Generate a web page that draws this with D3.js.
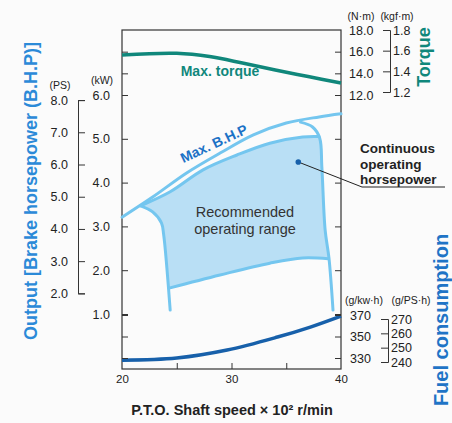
<!DOCTYPE html>
<html><head><meta charset="utf-8">
<script src="https://cdn.jsdelivr.net/npm/d3@7"></script>
<style>
body{margin:0;background:#fbfbfb}
svg{display:block;font-family:"Liberation Sans",Arial,sans-serif}
</style>
</head><body><svg id="c" width="452" height="423"></svg>
<script>
// ---- data ----
const speedInnerTicks=[25,30,35];
const speedLabels=[20,30,40];
const kwTicks=[1,2,3,4,5,6];
const psTicks=[2,3,4,5,6,7,8];
const torqueTicks=[12,14,16,18];
const torqueEdgeTicks=[12,14,16];
const kgfTicks=[1.2,1.4,1.6,1.8];
const fuelTicks=[330,350,370];
const fuelPSTicks=[240,250,260,270];

const torqueSpeed=[20,25,28,31,34,37,40];
const torqueVals=[15.7,15.85,15.55,14.95,14.3,13.7,13.1];
const bhpSpeed=[20,22.8,25.9,29,32,35,38,40];
const bhpVals=[3.21,3.67,4.22,4.68,5.09,5.36,5.50,5.57];
const innerSpeed=[21.7,24.4,27.4,30.5,33.5,36.5,38.0];
const innerVals=[3.47,3.79,4.29,4.63,4.90,5.04,5.05];
const rightSpeed=[36.3,37.4,38.05,38.25,38.55,38.9,39.27];
const rightVals=[5.38,5.27,5.02,4.36,2.92,2.28,1.09];
const leftSpeed=[21.7,22.8,23.6,23.8,24.1,24.4];
const leftVals=[3.47,3.33,3.08,2.82,2.05,1.09];
const bottomSpeed=[24.3,28.95,33.5,36.5,38.85];
const bottomVals=[1.59,1.89,2.16,2.28,2.26];
const fuelSpeed=[20,25,29.6,34.2,37.2,40];
const fuelVals=[328,330,337.4,349.5,358.8,369];
const markerSpeed=[36.1];
const markerKw=[4.47];

// ---- scales ----
const svg=d3.select("#c");
const L=122,R=341,T=30,B=369;
const x=d3.scaleLinear().domain([20,40]).range([L,R]);
const kw=d3.scaleLinear().domain([1,6]).range([314,95]);
const ps=d3.scaleLinear().domain([2,8]).range([kw(2*0.7355),kw(8*0.7355)]);
const tq=d3.scaleLinear().domain([12,18]).range([95,30]);
const kgf=d3.scaleLinear().domain([1.2,1.8]).range([92,30]);
const fuel=d3.scaleLinear().domain([330,370]).range([358,315]);
const fuelPS=d3.scaleLinear().domain([240,270]).range([362,319]);

const pts=(s,v)=>s.map((d,i)=>[d,v[i]]);
const kwLine=d3.line().x(d=>x(d[0])).y(d=>kw(d[1])).curve(d3.curveCatmullRom);

const lightBlue="#74c6ef", fillBlue="#b9dff5", teal="#10877b", darkBlue="#1760aa";

// fill region
const inner=pts(innerSpeed,innerVals);
const right=pts(rightSpeed,rightVals);
const left=pts(leftSpeed,leftVals);
const bottom=pts(bottomSpeed,bottomVals);
const fillPath=kwLine(inner)
 +kwLine(right.slice(2,6)).replace(/^M/,"L")
 +kwLine(bottom.slice().reverse()).replace(/^M/,"L")
 +kwLine(left.slice(0,5).reverse()).replace(/^M/,"L")+"Z";
svg.append("path").attr("d",fillPath).attr("fill",fillBlue);

// frame
svg.append("rect").attr("x",L).attr("y",T).attr("width",R-L).attr("height",B-T)
 .attr("fill","none").attr("stroke","#333").attr("stroke-width",1.2);

// boundary lines
[pts(bhpSpeed,bhpVals),inner,right,left,bottom].forEach(a=>{
 svg.append("path").attr("d",kwLine(a)).attr("fill","none")
  .attr("stroke",lightBlue).attr("stroke-width",3).attr("stroke-linecap","round");
});

// torque
svg.append("path").attr("d",d3.line().x(d=>x(d[0])).y(d=>tq(d[1])).curve(d3.curveCatmullRom)(pts(torqueSpeed,torqueVals)))
 .attr("fill","none").attr("stroke",teal).attr("stroke-width",3.5);
// fuel
svg.append("path").attr("d",d3.line().x(d=>x(d[0])).y(d=>fuel(d[1])).curve(d3.curveCatmullRom)(pts(fuelSpeed,fuelVals)))
 .attr("fill","none").attr("stroke",darkBlue).attr("stroke-width",3.5);

// ---- edge ticks (inward) ----
function clean(g){g.select(".domain").remove();g.selectAll("line").attr("stroke","#333");g.selectAll("text").attr("fill","#222");}
const fmt1=d3.format(".1f");
[[kw,kwTicks],[tq,torqueEdgeTicks],[fuel,fuelTicks]].forEach(([s,t])=>{
 svg.append("g").attr("transform",`translate(${L},0)`).call(d3.axisRight(s).tickValues(t).tickSize(6).tickFormat("")).call(clean);
 svg.append("g").attr("transform",`translate(${R},0)`).call(d3.axisLeft(s).tickValues(t).tickSize(6).tickFormat("")).call(clean);
});
svg.append("g").attr("transform",`translate(0,${B})`).call(d3.axisTop(x).tickValues(speedInnerTicks).tickSize(6).tickFormat("")).call(clean);

// ---- labels ----
const fs="12.5px";
svg.append("g").attr("transform",`translate(${L},0)`)
 .call(d3.axisLeft(kw).tickValues(kwTicks).tickSize(0).tickPadding(12).tickFormat(fmt1)).call(clean)
 .selectAll("text").style("font-size",fs);
svg.append("g").attr("transform",`translate(0,${B})`)
 .call(d3.axisBottom(x).tickValues(speedLabels).tickSize(0).tickPadding(6)).call(clean)
 .selectAll("text").style("font-size","11.5px");
svg.append("g").attr("transform",`translate(${R},0)`)
 .call(d3.axisRight(tq).tickValues(torqueTicks).tickSize(0).tickPadding(8).tickFormat(fmt1)).call(clean)
 .selectAll("text").style("font-size",fs);
svg.append("g").attr("transform",`translate(${R},0)`)
 .call(d3.axisRight(fuel).tickValues(fuelTicks).tickSize(0).tickPadding(9)).call(clean)
 .selectAll("text").style("font-size",fs);

// PS axis
const psG=svg.append("g").attr("transform","translate(78,0)")
 .call(d3.axisRight(ps).tickValues(psTicks).tickSize(7).tickSizeOuter(7).tickFormat(""));
psG.selectAll("line,path").attr("stroke","#333");
svg.append("g").attr("transform","translate(78,0)")
 .call(d3.axisLeft(ps).tickValues(psTicks).tickSize(0).tickPadding(10).tickFormat(fmt1)).call(clean)
 .selectAll("text").style("font-size",fs);

// kgf axis
const kgG=svg.append("g").attr("transform","translate(390,0)")
 .call(d3.axisLeft(kgf).tickValues(kgfTicks).tickSize(7).tickSizeOuter(7).tickFormat(""));
kgG.selectAll("line,path").attr("stroke","#333");
svg.append("g").attr("transform","translate(390,0)")
 .call(d3.axisRight(kgf).tickValues(kgfTicks).tickSize(0).tickPadding(3).tickFormat(fmt1)).call(clean)
 .selectAll("text").style("font-size",fs);

// g/PS.h axis
const fpG=svg.append("g").attr("transform","translate(388,0)")
 .call(d3.axisLeft(fuelPS).tickValues(fuelPSTicks).tickSize(7).tickSizeOuter(7).tickFormat(""));
fpG.selectAll("line,path").attr("stroke","#333");
svg.append("g").attr("transform","translate(388,0)")
 .call(d3.axisRight(fuelPS).tickValues(fuelPSTicks).tickSize(0).tickPadding(3)).call(clean)
 .selectAll("text").style("font-size",fs);

// units
const units=[["(PS)",60,89],["(kW)",102,84],["(N·m)",361,20],["(kgf·m)",397,20],["(g/kw·h)",364,304],["(g/PS·h)",411,304]];
units.forEach(([t,ux,uy])=>svg.append("text").text(t).attr("x",ux).attr("y",uy)
 .attr("text-anchor","middle").style("font-size","10.5px").attr("fill","#222"));

// titles
svg.append("text").text("P.T.O. Shaft speed × 10² r/min").attr("x",232).attr("y",415)
 .attr("text-anchor","middle").style("font-size","14.5px").style("font-weight","bold").attr("fill","#222");
svg.append("text").text("Output [Brake horsepower (B.H.P)]").attr("transform","translate(37,191) rotate(-90)")
 .attr("text-anchor","middle").style("font-size","18px").style("font-weight","bold").attr("fill","#2b8ad8");
svg.append("text").text("Torque").attr("transform","translate(430,57) rotate(-90)")
 .attr("text-anchor","middle").style("font-size","18px").style("font-weight","bold").attr("fill",teal);
svg.append("text").text("Fuel consumption").attr("transform","translate(448,320) rotate(-90)")
 .attr("text-anchor","middle").style("font-size","20px").style("font-weight","bold").attr("fill","#1f74c6");

// in-plot annotations
svg.append("text").text("Max. torque").attr("x",220).attr("y",76)
 .attr("text-anchor","middle").style("font-size","14px").style("font-weight","bold").attr("fill",teal);
svg.append("text").text("Max. B.H.P").attr("transform","translate(216,148) rotate(-25)")
 .attr("text-anchor","middle").style("font-size","14px").style("font-weight","bold").attr("fill","#1c72c6");
svg.append("text").attr("x",245).attr("y",217).attr("text-anchor","middle")
 .style("font-size","14.5px").attr("fill","#333").text("Recommended");
svg.append("text").attr("x",245).attr("y",234).attr("text-anchor","middle")
 .style("font-size","14.5px").attr("fill","#333").text("operating range");

// continuous annotation
const mx=x(markerSpeed[0]), my=kw(markerKw[0]);
svg.append("polyline").attr("points",`${mx},${my} 362,187 445,187`).attr("fill","none").attr("stroke","#222").attr("stroke-width",1);
svg.append("circle").attr("cx",mx).attr("cy",my).attr("r",2.8).attr("fill",darkBlue);
["Continuous","operating","horsepower"].forEach((t,i)=>svg.append("text").text(t)
 .attr("x",360).attr("y",153+i*15.5).style("font-size","13.5px").style("font-weight","bold").attr("fill","#222"));
</script></body></html>
